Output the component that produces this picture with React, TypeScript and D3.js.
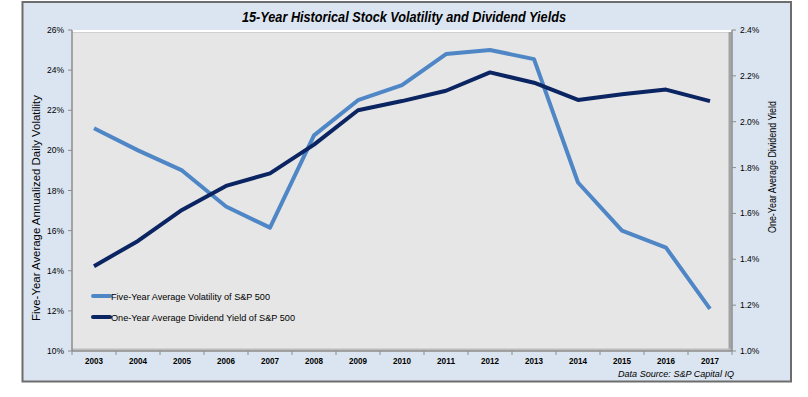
import React from 'react';
import * as d3 from 'd3';

// chart data
const years = ['2003', '2004', '2005', '2006', '2007', '2008', '2009', '2010', '2011', '2012', '2013', '2014', '2015', '2016', '2017'];
const volatility = [21.1, 20.0, 19.0, 17.2, 16.15, 20.75, 22.5, 23.25, 24.8, 25.0, 24.55, 18.4, 16.0, 15.15, 12.1];
const dividendYield = [1.37, 1.48, 1.615, 1.72, 1.775, 1.9, 2.05, 2.09, 2.135, 2.215, 2.17, 2.095, 2.12, 2.14, 2.09];
const leftTicks = [10, 12, 14, 16, 18, 20, 22, 24, 26];
const rightTicks = [1.0, 1.2, 1.4, 1.6, 1.8, 2.0, 2.2, 2.4];

const FONT = '"Liberation Sans", Arial, sans-serif';
const LIGHT = '#4f86c6';
const DARK = '#0b2562';

const plot = { left: 72, top: 30, right: 732, bottom: 351 };

export default function App() {
  const x = d3.scaleBand<string>().domain(years).range([plot.left, plot.right]);
  const yL = d3.scaleLinear().domain([10, 26]).range([plot.bottom, plot.top]);
  const yR = d3.scaleLinear().domain([1.0, 2.4]).range([plot.bottom, plot.top]);
  const cx = (i: number) => (x(years[i]) as number) + x.bandwidth() / 2;

  const volLine = d3.line<number>().x((d, i) => cx(i)).y((d) => yL(d));
  const divLine = d3.line<number>().x((d, i) => cx(i)).y((d) => yR(d));

  // band boundaries for x ticks
  const bounds = years.map((y) => x(y) as number).concat([plot.right]);

  return (
    <svg width={800} height={390} style={{ display: 'block', position: 'absolute', left: 0, top: 0 }} fontFamily={FONT}>
      <rect x={0} y={0} width={808} height={397} fill="#ffffff" />
      {/* outer frame */}
      <rect x={22.5} y={2} width={768.5} height={379.5} fill="#dbe5f1" stroke="#6d6d6d" strokeWidth={2} />

      <text x={404} y={22} textAnchor="middle" fontSize={14} fontWeight="bold" fontStyle="italic" fill="#000"
        textLength={324} lengthAdjust="spacingAndGlyphs">15-Year Historical Stock Volatility and Dividend Yields</text>

      {/* plot area */}
      <rect x={plot.left} y={plot.top} width={plot.right - plot.left} height={plot.bottom - plot.top} fill="#e6e6e6" />
      <line x1={plot.left} x2={plot.right} y1={plot.top + 1} y2={plot.top + 1} stroke="#ffffff" strokeWidth={2} />
      <line x1={plot.left} x2={plot.right} y1={plot.top + 2.5} y2={plot.top + 2.5} stroke="#d0d0d0" strokeWidth={1} />
      <line x1={plot.right - 2} x2={plot.right - 2} y1={plot.top + 2} y2={plot.bottom} stroke="#a3a3a3" strokeWidth={3} />
      <line x1={plot.left} x2={plot.right} y1={plot.bottom - 1.5} y2={plot.bottom - 1.5} stroke="#bdbdbd" strokeWidth={2} />

      {/* left axis */}
      <line x1={plot.left} x2={plot.left} y1={plot.top} y2={plot.bottom} stroke="#8c8c8c" strokeWidth={1.5} />
      {leftTicks.map((t) => (
        <g key={'l' + t}>
          <line x1={plot.left - 4} x2={plot.left} y1={yL(t)} y2={yL(t)} stroke="#8c8c8c" />
          <text x={plot.left - 8} y={yL(t) + 3} textAnchor="end" fontSize={8.5} fill="#000">{t + '%'}</text>
        </g>
      ))}

      {/* right axis */}
      <line x1={plot.right} x2={plot.right} y1={plot.top} y2={plot.bottom} stroke="#8c8c8c" strokeWidth={1.5} />
      {rightTicks.map((t) => (
        <g key={'r' + t}>
          <line x1={plot.right} x2={plot.right + 4} y1={yR(t)} y2={yR(t)} stroke="#8c8c8c" />
          <text x={plot.right + 8} y={yR(t) + 3} textAnchor="start" fontSize={8.5} fill="#000">{t.toFixed(1) + '%'}</text>
        </g>
      ))}

      {/* bottom axis */}
      <line x1={plot.left} x2={plot.right} y1={plot.bottom} y2={plot.bottom} stroke="#8c8c8c" strokeWidth={1.5} />
      {bounds.map((b, i) => (
        <line key={'b' + i} x1={b} x2={b} y1={plot.bottom} y2={plot.bottom + 4} stroke="#8c8c8c" />
      ))}
      {years.map((yr, i) => (
        <text key={yr} x={cx(i)} y={364} textAnchor="middle" fontSize={8.5} fontWeight="bold" fill="#000"
          textLength={18} lengthAdjust="spacingAndGlyphs">{yr}</text>
      ))}

      {/* axis titles */}
      <text transform="translate(40,208) rotate(-90)" textAnchor="middle" fontSize={10} fill="#000"
        textLength={226} lengthAdjust="spacingAndGlyphs">Five-Year Average Annualized Daily Volatility</text>
      <text transform="translate(776,167) rotate(-90)" textAnchor="middle" fontSize={10} fill="#000"
        textLength={132} lengthAdjust="spacingAndGlyphs">One-Year Average Dividend Yield</text>

      {/* series */}
      <path d={volLine(volatility) || ''} fill="none" stroke={LIGHT} strokeWidth={4} strokeLinejoin="round" />
      <path d={divLine(dividendYield) || ''} fill="none" stroke={DARK} strokeWidth={4} strokeLinejoin="round" />

      {/* legend */}
      <line x1={93} x2={110} y1={296} y2={296} stroke={LIGHT} strokeWidth={4} strokeLinecap="round" />
      <text x={111} y={299.5} fontSize={9.5} fill="#000" textLength={159} lengthAdjust="spacingAndGlyphs">Five-Year Average Volatility of S&amp;P 500</text>
      <line x1={93} x2={110} y1={317} y2={317} stroke={DARK} strokeWidth={4} strokeLinecap="round" />
      <text x={111} y={320.5} fontSize={9.5} fill="#000" textLength={184} lengthAdjust="spacingAndGlyphs">One-Year Average Dividend Yield of S&amp;P 500</text>

      <text x={734} y={377} textAnchor="end" fontSize={9.5} fontStyle="italic" fill="#000"
        textLength={116} lengthAdjust="spacingAndGlyphs">Data Source: S&amp;P Capital IQ</text>
    </svg>
  );
}
